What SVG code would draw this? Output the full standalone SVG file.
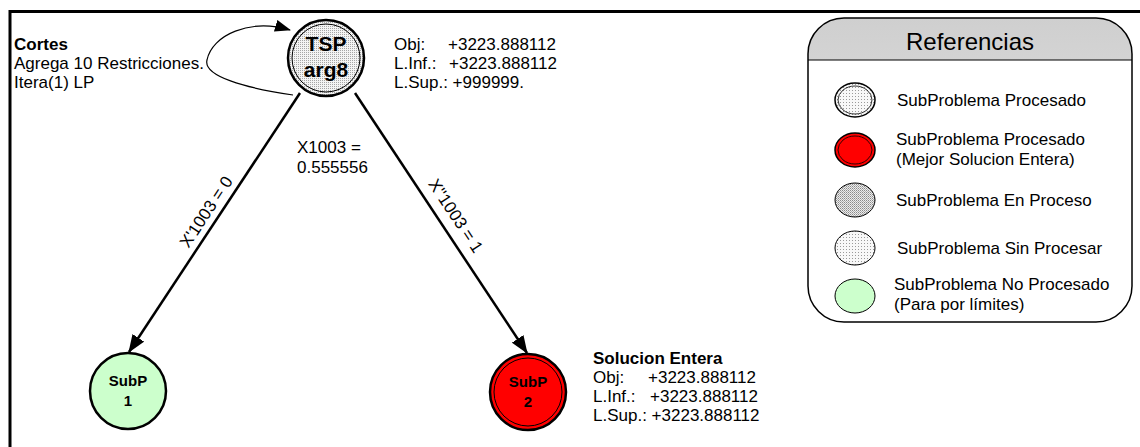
<svg xmlns="http://www.w3.org/2000/svg" width="1140" height="447" viewBox="0 0 1140 447">
  <defs>
    <style>
      text { font-family: "Liberation Sans", Arial, sans-serif; fill: #000; }
      .t { font-size: 17px; }
      .b { font-weight: bold; }
      .nodeLbl { font-size: 21px; font-weight: bold; text-anchor: middle; }
      .subLbl { font-size: 15px; font-weight: bold; text-anchor: middle; }
      .edge { stroke: #000; stroke-width: 2.5; fill: none; }
      .ring { stroke: #000; fill: none; }
    </style>
    <!-- stipple fills -->
    <pattern id="dotsMid" width="2" height="2" patternUnits="userSpaceOnUse">
      <rect width="2" height="2" fill="#f4f4f4"/>
      <rect width="1" height="1" fill="#a6a6a6"/>
    </pattern>
    <pattern id="dotsDark" width="2" height="2" patternUnits="userSpaceOnUse">
      <rect width="2" height="2" fill="#ececec"/>
      <rect width="1" height="1" fill="#8a8a8a"/>
      <rect x="1" y="1" width="1" height="1" fill="#b0b0b0"/>
    </pattern>
    <pattern id="dotsLight" width="3" height="3" patternUnits="userSpaceOnUse">
      <rect width="3" height="3" fill="#f8f8f8"/>
      <rect width="1" height="1" fill="#9a9a9a"/>
    </pattern>
    <linearGradient id="hdr" x1="0" y1="0" x2="0" y2="1">
      <stop offset="0" stop-color="#cfcfcf"/>
      <stop offset="1" stop-color="#efefef"/>
    </linearGradient>
    <clipPath id="hdrClip">
      <rect x="808" y="18" width="324" height="42"/>
    </clipPath>
    <marker id="arrow" markerWidth="18" markerHeight="14" refX="17" refY="7" orient="auto" markerUnits="userSpaceOnUse">
      <path d="M0,0 L18,7 L0,14 Z" fill="#000"/>
    </marker>
    <marker id="arrowSm" markerWidth="16" markerHeight="12" refX="15" refY="6" orient="auto" markerUnits="userSpaceOnUse">
      <path d="M0,0 L16,6 L0,12 Z" fill="#000"/>
    </marker>
  </defs>

  <rect width="1140" height="447" fill="#fff"/>

  <!-- frame -->
  <path d="M10,447 V11.5 H1140" stroke="#000" stroke-width="3" fill="none"/>

  <!-- connectors -->
  <g id="connectors">
    <path id="loop" d="M293,95 C245,88 203,76 207,60 C212,35 250,18 290,30" stroke="#000" stroke-width="1.2" fill="none" marker-end="url(#arrowSm)"/>
    <line id="e-left" class="edge" x1="300" y1="93" x2="129" y2="352" marker-end="url(#arrow)"/>
    <line id="e-right" class="edge" x1="355" y1="93" x2="527" y2="353" marker-end="url(#arrow)"/>
    <text class="t" transform="translate(211,215) rotate(-56.5)" text-anchor="middle">X'1003 = 0</text>
    <text class="t" transform="translate(451,219) rotate(56.5)" text-anchor="middle">X''1003 = 1</text>
    <text class="t" x="297" y="153">X1003 =</text>
    <text class="t" x="297" y="173">0.555556</text>
  </g>

  <!-- root node -->
  <g id="node-tsp">
    <circle cx="326" cy="58" r="38" fill="url(#dotsMid)" stroke="#000" stroke-width="2.5"/>
    <circle cx="326" cy="58" r="34" class="ring" stroke-width="1"/>
    <text class="nodeLbl" x="326" y="51">TSP</text>
    <text class="nodeLbl" x="326" y="77">arg8</text>
  </g>

  <g id="note-cortes">
    <text class="t b" x="14" y="50">Cortes</text>
    <text class="t" x="14" y="69">Agrega 10 Restricciones.</text>
    <text class="t" x="14" y="88">Itera(1) LP</text>
  </g>

  <g id="note-tsp">
    <text class="t" x="394" y="50">Obj:</text>
    <text class="t" x="448" y="50">+3223.888112</text>
    <text class="t" x="394" y="69">L.Inf.:</text>
    <text class="t" x="449" y="69">+3223.888112</text>
    <text class="t" x="394" y="88">L.Sup.: +999999.</text>
  </g>

  <g id="node-subp1">
    <circle cx="128" cy="391" r="38" fill="#ccffcc" stroke="#000" stroke-width="2.5"/>
    <text class="subLbl" x="128" y="386">SubP</text>
    <text class="subLbl" x="128" y="406">1</text>
  </g>

  <g id="node-subp2">
    <circle cx="528" cy="392" r="38" fill="#ff0000" stroke="#000" stroke-width="2.5"/>
    <circle cx="528" cy="392" r="34" class="ring" stroke-width="1"/>
    <text class="subLbl" x="528" y="387">SubP</text>
    <text class="subLbl" x="528" y="407">2</text>
  </g>

  <g id="note-subp2">
    <text class="t b" x="593" y="364">Solucion Entera</text>
    <text class="t" x="593" y="383">Obj:</text>
    <text class="t" x="648" y="383">+3223.888112</text>
    <text class="t" x="593" y="402">L.Inf.:</text>
    <text class="t" x="650" y="402">+3223.888112</text>
    <text class="t" x="593" y="421">L.Sup.: +3223.888112</text>
  </g>

  <!-- legend -->
  <g id="legend">
    <rect x="808" y="18" width="324" height="304" rx="36" fill="#fff"/>
    <rect x="808" y="18" width="324" height="304" rx="36" fill="url(#hdr)" clip-path="url(#hdrClip)"/>
    <line x1="808" y1="60" x2="1132" y2="60" stroke="#000" stroke-width="1"/>
    <rect x="808" y="18" width="324" height="304" rx="36" fill="none" stroke="#000" stroke-width="1.5"/>
    <text x="970" y="50" text-anchor="middle" style="font-size:24px">Referencias</text>

    <ellipse cx="855" cy="100" rx="20" ry="17" fill="url(#dotsLight)" stroke="#000" stroke-width="1.5"/>
    <ellipse cx="855" cy="100" rx="17" ry="14" class="ring" stroke-width="0.8"/>
    <text class="t" x="897" y="106">SubProblema Procesado</text>

    <ellipse cx="855" cy="150" rx="20" ry="17" fill="#ff0000" stroke="#000" stroke-width="1.5"/>
    <ellipse cx="855" cy="150" rx="17" ry="14" class="ring" stroke-width="0.8"/>
    <text class="t" x="896" y="145">SubProblema Procesado</text>
    <text class="t" x="896" y="165">(Mejor Solucion Entera)</text>

    <ellipse cx="855" cy="200" rx="20" ry="17" fill="url(#dotsDark)" stroke="#000" stroke-width="1"/>
    <text class="t" x="896" y="206">SubProblema En Proceso</text>

    <ellipse cx="855" cy="248" rx="20" ry="17" fill="url(#dotsLight)" stroke="#000" stroke-width="1"/>
    <text class="t" x="897" y="254">SubProblema Sin Procesar</text>

    <ellipse cx="855" cy="296" rx="20" ry="17" fill="#ccffcc" stroke="#000" stroke-width="1"/>
    <text class="t" x="894" y="290">SubProblema No Procesado</text>
    <text class="t" x="894" y="310">(Para por límites)</text>
  </g>
</svg>
